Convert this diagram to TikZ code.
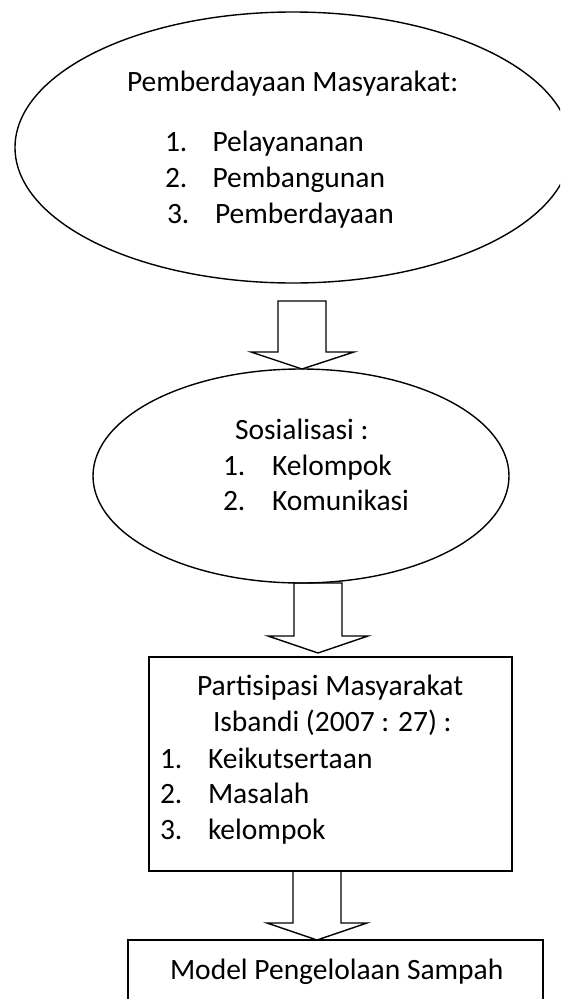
\documentclass[tikz,border=0pt]{standalone}
\usepackage{fontspec}
\setmainfont{Carlito}
\usetikzlibrary{shapes.geometric}
\begin{document}
\begin{tikzpicture}[x=1pt,y=-1pt,
  every node/.style={inner sep=0pt,outer sep=0pt},
  txt/.style={anchor=base west,font=\fontsize{29.5}{35}\selectfont},
  shapeline/.style={draw=black,line width=1.4pt},
  blockarrow/.style={draw=black,line width=1.4pt,line join=miter}]
\useasboundingbox (0,0) rectangle (560,999);
\clip (0,0) rectangle (560,999);
% ellipse 1
\node[shapeline,ellipse,minimum width=556pt,minimum height=271pt] (e1) at (293,147.5) {};
\node[txt] (t1) at (127,91.5) {Pemberdayaan Masyarakat:};
\node[txt] (t1n1) at (165,151) {1.};
\node[txt] (t1i1) at (212.5,151) {Pelayananan};
\node[txt] (t1n2) at (165,187.5) {2.};
\node[txt] (t1i2) at (212.5,187.5) {Pembangunan};
\node[txt] (t1n3) at (167,223) {3.};
\node[txt] (t1i3) at (215,223) {Pemberdayaan};
% arrow 1
\draw[blockarrow] (278,301) -- (278,352) -- (251,352) -- (302,369) -- (354,352) -- (326,352) -- (326,301) -- cycle;
% ellipse 2
\node[shapeline,ellipse,minimum width=416pt,minimum height=214pt] (e2) at (301,476) {};
\node[txt] (t2) at (235,439) {Sosialisasi :};
\node[txt] (t2n1) at (223,475) {1.};
\node[txt] (t2i1) at (272,475) {Kelompok};
\node[txt] (t2n2) at (223,510) {2.};
\node[txt] (t2i2) at (272,510) {Komunikasi};
% arrow 2
\draw[blockarrow] (294,583) -- (294,636) -- (268,636) -- (318,653) -- (368,636) -- (342,636) -- (342,583) -- cycle;
% box 3
\draw[shapeline] (149,657) rectangle (512,871);
\node[txt] (t3a) at (197,695) {Partisipasi Masyarakat};
\node[txt] (t3b) at (213,731) {Isbandi (2007 : 27) :};
\node[txt] (t3n1) at (160,768) {1.};
\node[txt] (t3i1) at (208,768) {Keikutsertaan};
\node[txt] (t3n2) at (160,803) {2.};
\node[txt] (t3i2) at (208,803) {Masalah};
\node[txt] (t3n3) at (160,839) {3.};
\node[txt] (t3i3) at (208,839) {kelompok};
% arrow 3
\draw[blockarrow] (293,871) -- (293,923) -- (267,923) -- (317,940) -- (367,923) -- (341,923) -- (341,871) -- cycle;
% box 4
\draw[shapeline] (128,940) rectangle (543,1030);
\node[txt] (t4) at (170,979) {Model Pengelolaan Sampah};
\end{tikzpicture}
\end{document}
